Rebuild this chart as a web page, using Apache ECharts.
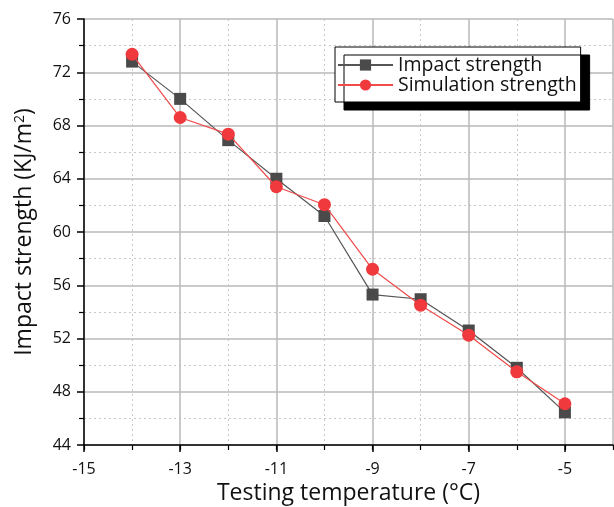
<!DOCTYPE html>
<html>
<head>
<meta charset="utf-8">
<script src="https://cdn.jsdelivr.net/npm/echarts@6/dist/echarts.min.js"></script>
<style>
html,body{margin:0;padding:0;background:#fff;}
#chart{width:614px;height:507px;}
</style>
</head>
<body>
<div id="chart"></div>
<script>
var temperatures = [-14, -13, -12, -11, -10, -9, -8, -7, -6, -5];
var impactStrength = [72.8, 70.0, 66.9, 64.0, 61.2, 55.3, 54.95, 52.6, 49.8, 46.45];
var simulationStrength = [73.35, 68.6, 67.35, 63.4, 62.05, 57.2, 54.5, 52.25, 49.5, 47.1];
var seriesNames = ['Impact strength', 'Simulation strength'];
var xTitle = 'Testing temperature (°C)';
var yTitle = 'Impact strength (KJ/m{sup|2})';

function pairs(xs, ys) { return xs.map(function (x, i) { return [x, ys[i]]; }); }

var FONT = 'Open Sans';
var chart = echarts.init(document.getElementById('chart'), null, {renderer: 'canvas'});
chart.setOption({
  animation: false,
  backgroundColor: '#fff',
  textStyle: {fontFamily: FONT},
  grid: {left: 84, right: 1, top: 19, bottom: 62, containLabel: false, outerBoundsMode: 'none'},
  legend: {
    orient: 'vertical',
    left: 335, top: 47,
    data: seriesNames,
    itemWidth: 55, itemHeight: 14, itemGap: 0,
    padding: [8, 4, 7, 2],
    backgroundColor: '#fff',
    borderColor: '#000', borderWidth: 1,
    shadowColor: '#000', shadowBlur: 0, shadowOffsetX: 9, shadowOffsetY: 8,
    textStyle: {fontFamily: FONT, fontSize: 19.5, color: '#111', lineHeight: 20}
  },
  xAxis: [{
    type: 'value', min: -15, max: -4, interval: 2,
    name: xTitle, nameLocation: 'middle', nameGap: 37,
    nameTextStyle: {fontFamily: FONT, fontSize: 23, color: '#111'},
    axisLine: {show: true, onZero: false, lineStyle: {color: '#000', width: 1.5}},
    axisTick: {show: true, length: 7, lineStyle: {color: '#000', width: 1.5}},
    axisLabel: {fontFamily: FONT, fontSize: 16, color: '#111', margin: 16, showMaxLabel: false,
      formatter: function (v) { return v === -4 ? '' : String(v); }},
    splitLine: {show: true, lineStyle: {color: '#b8b8b8', width: 1.5, type: 'solid'}}
  }, {
    type: 'value', min: -15, max: -4, interval: 1, position: 'bottom',
    axisLine: {show: false},
    axisTick: {show: true, length: 5, lineStyle: {color: '#000', width: 1.2}},
    axisLabel: {show: false},
    splitLine: {show: true, lineStyle: {color: ['transparent', '#c8c8c8'], width: 1, type: [2, 3]}}
  }],
  yAxis: {
    type: 'value', min: 44, max: 76, interval: 4,
    name: yTitle, nameLocation: 'middle', nameGap: 48,
    nameTextStyle: {fontFamily: FONT, fontSize: 23, color: '#111',
      rich: {sup: {fontFamily: FONT, fontSize: 14, verticalAlign: 'top', color: '#111'}}},
    axisLine: {show: true, onZero: false, lineStyle: {color: '#000', width: 1.5}},
    axisTick: {show: true, length: 7, lineStyle: {color: '#000', width: 1.5}},
    minorTick: {show: true, splitNumber: 2, length: 5, lineStyle: {color: '#000', width: 1.2}},
    axisLabel: {fontFamily: FONT, fontSize: 16, color: '#111', margin: 13},
    splitLine: {show: true, lineStyle: {color: '#b8b8b8', width: 1.5, type: 'solid'}},
    minorSplitLine: {show: true, lineStyle: {color: '#c8c8c8', width: 1, type: [2, 3]}}
  },
  series: [{
    name: seriesNames[0], type: 'line', xAxisIndex: 0,
    data: pairs(temperatures, impactStrength),
    symbol: 'rect', symbolSize: 12,
    itemStyle: {color: '#4a4a4a'},
    lineStyle: {color: '#555', width: 1.2},
    z: 3
  }, {
    name: seriesNames[1], type: 'line', xAxisIndex: 0,
    data: pairs(temperatures, simulationStrength),
    symbol: 'circle', symbolSize: 13,
    itemStyle: {color: '#f0393c'},
    lineStyle: {color: '#f04a4a', width: 1.2},
    z: 4
  }]
});
</script>
</body>
</html>
